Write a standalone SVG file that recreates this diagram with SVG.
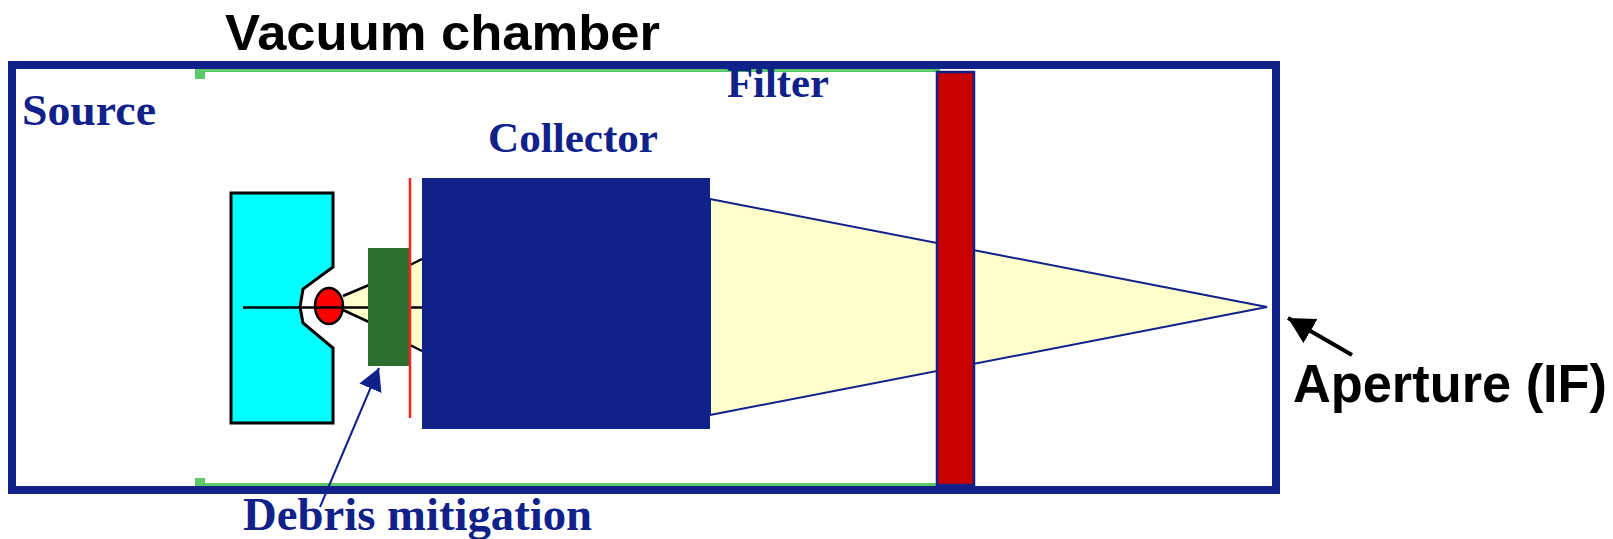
<svg xmlns="http://www.w3.org/2000/svg" width="1613" height="539" viewBox="0 0 1613 539">
<style>
.t{font-family:"Liberation Serif","Times New Roman",serif;font-weight:700;fill:#10218a}
.b{font-family:"Liberation Sans",Arial,sans-serif;font-weight:700;fill:#000}
.g{fill:#5cc96a}
.k{stroke:#000;stroke-width:2.5;fill:none}
</style>
<defs>
<marker id="ab" markerUnits="userSpaceOnUse" markerWidth="24" markerHeight="26" refX="22" refY="13" orient="auto"><path d="M0 1L22 13L0 25z" fill="#10218a"/></marker>
<marker id="ak" markerUnits="userSpaceOnUse" markerWidth="30" markerHeight="30" refX="26" refY="14" orient="auto"><path d="M0 0L26 14L0 28z" fill="#000"/></marker>
</defs>
<rect width="1613" height="539" fill="#fff"/>
<g id="chamber">
<rect class="g" x="195" y="68" width="745" height="4"/>
<rect class="g" x="195" y="69" width="10" height="10"/>
<rect class="g" x="195" y="483" width="745" height="4"/>
<rect class="g" x="195" y="478" width="10" height="9"/>
<rect x="12" y="65" width="1264" height="425" fill="none" stroke="#10218a" stroke-width="8"/>
<text class="b" x="225" y="50" font-size="50" textLength="435" lengthAdjust="spacingAndGlyphs">Vacuum chamber</text>
</g>
<g id="beam">
<path d="M710 199L1267 307L710 415z" fill="#ffffcc" stroke="#10218a" stroke-width="2"/>
</g>
<g id="filter">
<rect x="937" y="72" width="37" height="413" fill="#c80000" stroke="#10218a" stroke-width="2.5"/>
<text class="t" x="727" y="97" font-size="43" textLength="102" lengthAdjust="spacingAndGlyphs">Filter</text>
</g>
<g id="source">
<path d="M231 193H333V267L303 289L300 307L303 323L333 348V423H231z" fill="#00ffff" stroke="#000" stroke-width="3"/>
<path d="M343 296L369 285V322L343 310z" fill="#ffffcc"/>
<path class="k" d="M343 296L369 285M343 310L369 322"/>
<ellipse cx="329" cy="306" rx="14" ry="18" fill="#ff0000" stroke="#000" stroke-width="2.5"/>
<path class="k" d="M243 307.5H369"/>
<text class="t" x="22" y="125" font-size="45" textLength="134" lengthAdjust="spacingAndGlyphs">Source</text>
</g>
<g id="collector">
<path d="M409 265L422 259V351L409 345z" fill="#ffffcc"/>
<path class="k" d="M410 265L422 259M410 345L422 351M410 307.5H422"/>
<rect x="422" y="178" width="288" height="251" fill="#10218a"/>
<text class="t" x="488" y="152" font-size="43" textLength="170" lengthAdjust="spacingAndGlyphs">Collector</text>
</g>
<g id="debris">
<rect x="368" y="248" width="41" height="118" fill="#2d6f2f"/>
<path d="M410 178V418" stroke="#ff2020" stroke-width="2.5"/>
<text class="t" x="243" y="530" font-size="46" textLength="349" lengthAdjust="spacingAndGlyphs">Debris mitigation</text>
</g>
<g id="aperture">
<text class="b" x="1293" y="402" font-size="53" textLength="314" lengthAdjust="spacingAndGlyphs">Aperture (IF)</text>
</g>
<g id="connectors">
<path d="M320 507L379 368" fill="none" stroke="#10218a" stroke-width="2" marker-end="url(#ab)"/>
<path d="M1352 355L1288 318" fill="none" stroke="#000" stroke-width="4" marker-end="url(#ak)"/>
</g>
</svg>
